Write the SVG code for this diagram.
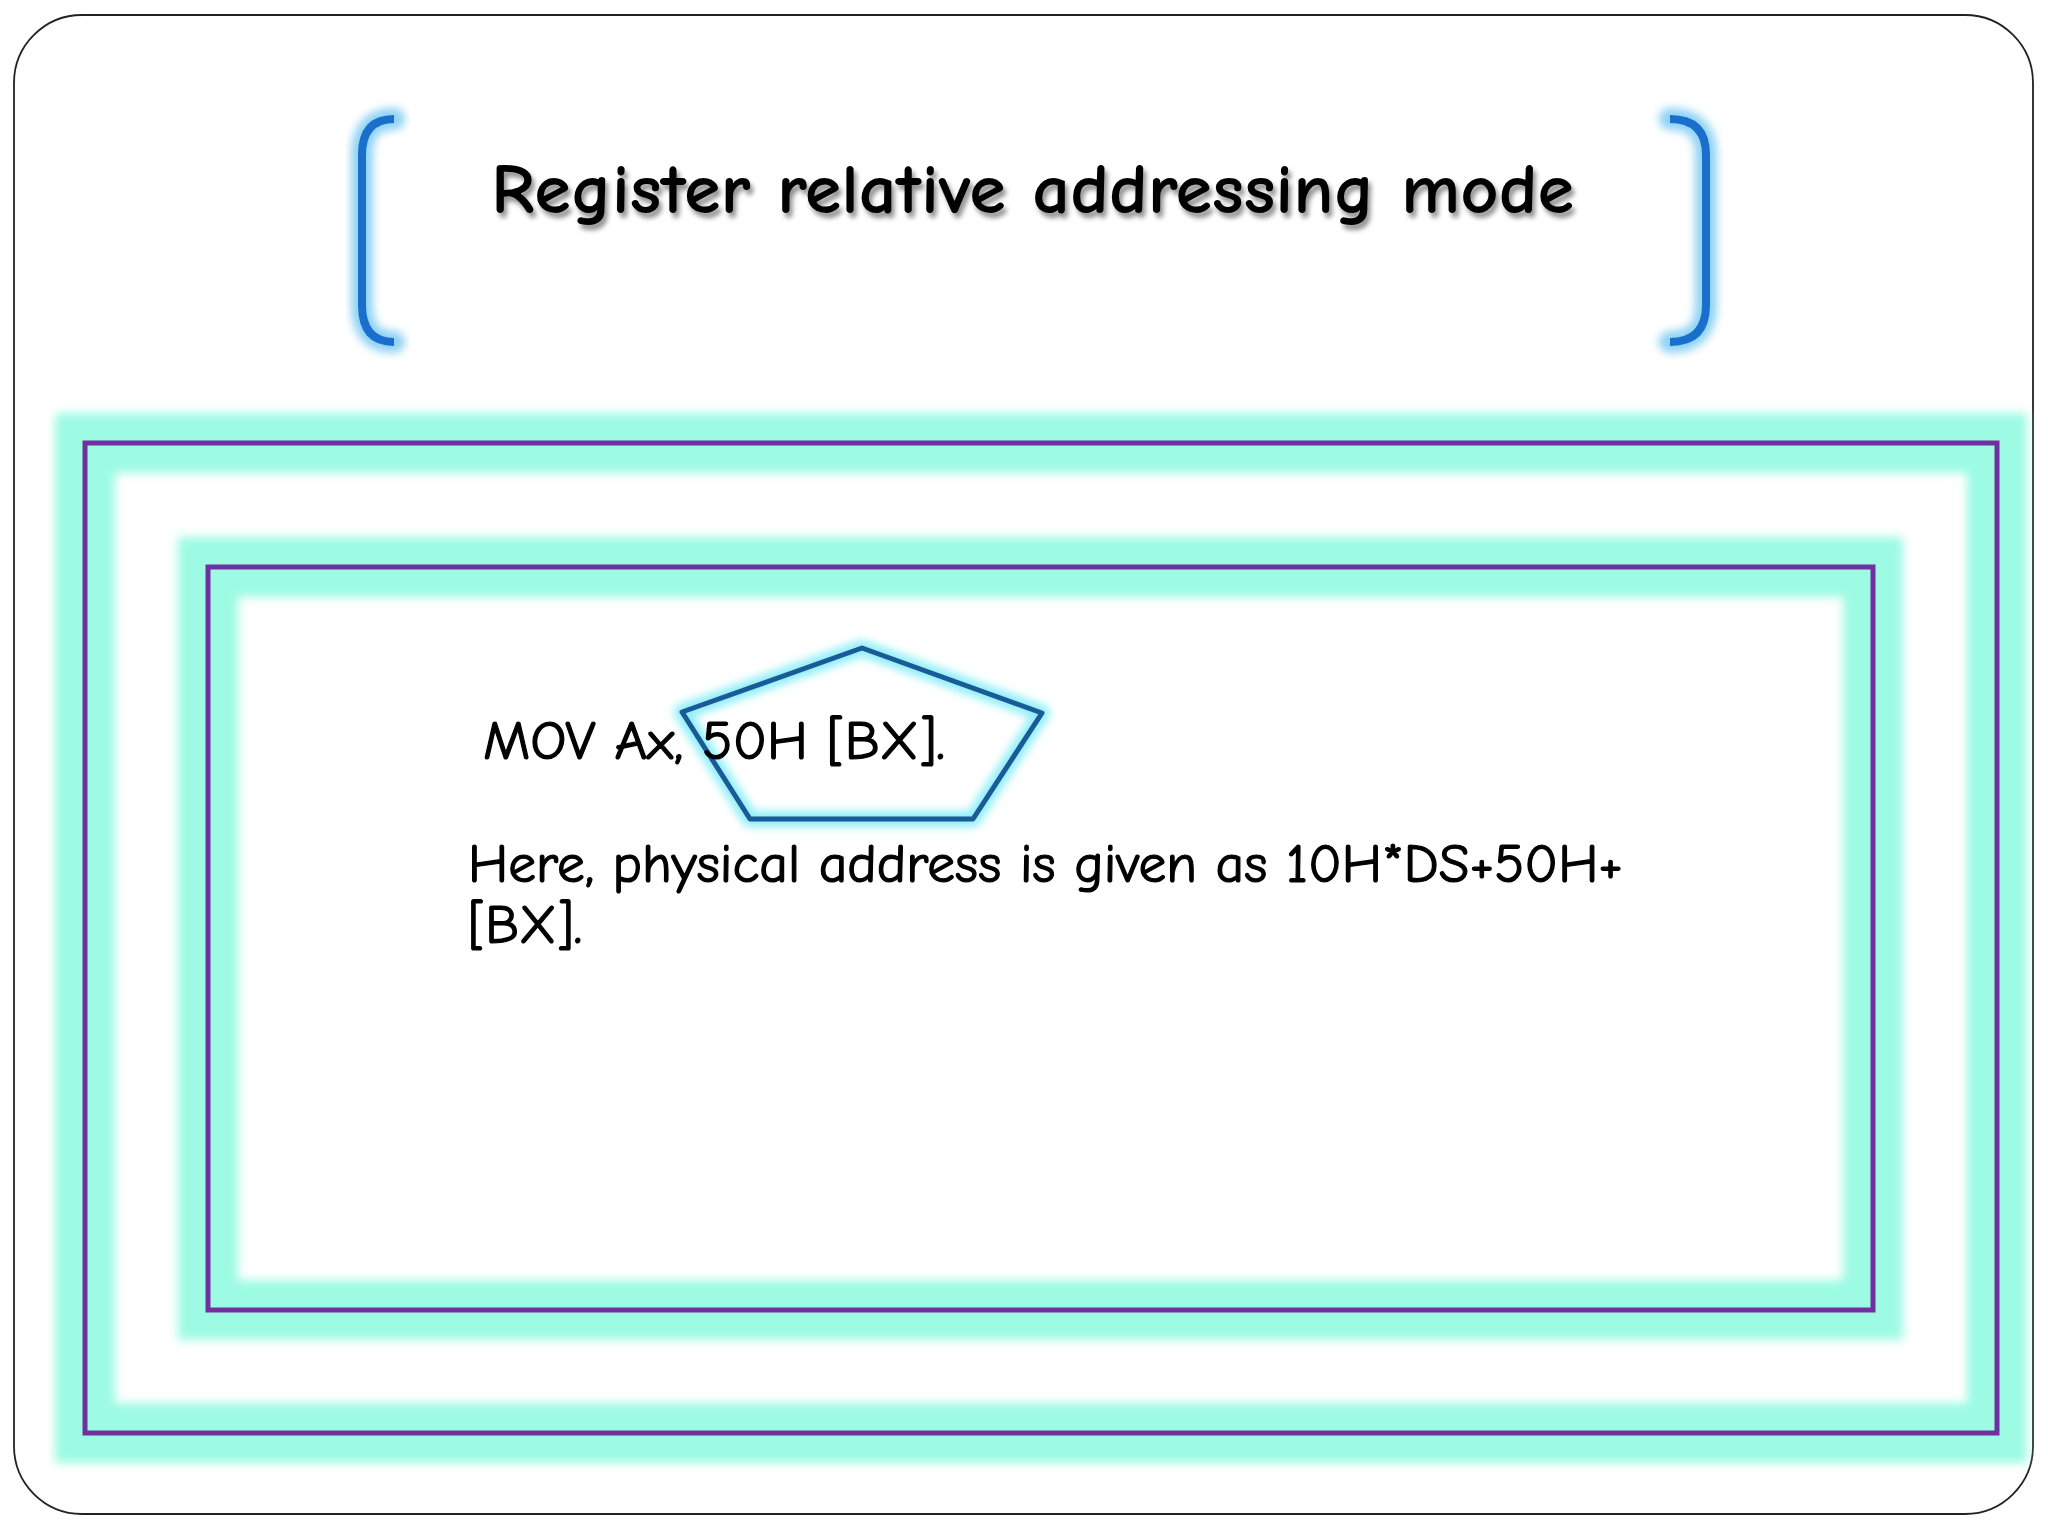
<svg xmlns="http://www.w3.org/2000/svg" width="2048" height="1536" viewBox="0 0 2048 1536">
  <defs>
    <style>
      .frame-glow { fill: none; stroke: #9DFBE3; stroke-width: 60; filter: url(#soft); }
      .frame-line { fill: none; stroke: #7030A0; stroke-width: 5; }
      .bracket-glow { fill: none; stroke: #8FD3F4; stroke-width: 22; stroke-linecap: round; filter: url(#soft3); }
      .bracket { fill: none; stroke: #1B6FCC; stroke-width: 8; stroke-linecap: butt; }
      .title { font-family: "Comic Sans MS", "Comic Neue", "Noto Sans", sans-serif; font-size: 71px; font-weight: bold; fill: #000; }
      .body { font-family: "Comic Sans MS", "Comic Neue", "Noto Sans", sans-serif; font-size: 55px; fill: #000; stroke: #000; stroke-width: 1.2; }
    </style>
    <filter id="soft" x="-10%" y="-10%" width="120%" height="120%">
      <feGaussianBlur stdDeviation="5"/>
    </filter>
    <filter id="soft3" x="-50%" y="-20%" width="200%" height="140%">
      <feGaussianBlur stdDeviation="4"/>
    </filter>
    <filter id="shadow" x="-5%" y="-30%" width="110%" height="160%">
      <feGaussianBlur in="SourceAlpha" stdDeviation="2.5" result="b"/>
      <feOffset in="b" dx="3" dy="5" result="o"/>
      <feComponentTransfer in="o" result="s">
        <feFuncA type="linear" slope="0.45"/>
      </feComponentTransfer>
      <feMerge>
        <feMergeNode in="s"/>
        <feMergeNode in="SourceGraphic"/>
      </feMerge>
    </filter>
  </defs>

  <rect width="2048" height="1536" fill="#FFFFFF"/>

  <g id="page">
    <rect x="14" y="15" width="2019" height="1499" rx="68" ry="68" fill="#FFFFFF" stroke="#222222" stroke-width="1.8"/>
  </g>

  <g id="title-brackets">
    <path class="bracket-glow" d="M394,119 Q362,119 362,155 L362,305 Q362,342 394,342"/>
    <path class="bracket" d="M394,119 Q362,119 362,155 L362,305 Q362,342 394,342"/>
    <path class="bracket-glow" d="M1670,119 Q1706,119 1706,155 L1706,305 Q1706,342 1670,342"/>
    <path class="bracket" d="M1670,119 Q1706,119 1706,155 L1706,305 Q1706,342 1670,342"/>
  </g>

  <g id="title">
    <text class="title" x="491" y="213" textLength="1083" lengthAdjust="spacingAndGlyphs" filter="url(#shadow)">Register relative addressing mode</text>
  </g>

  <g id="outer-frame">
    <rect class="frame-glow" x="85" y="443" width="1912" height="990"/>
    <rect class="frame-line" x="85" y="443" width="1912" height="990"/>
  </g>

  <g id="inner-frame">
    <rect class="frame-glow" x="208" y="567" width="1665" height="743"/>
    <rect class="frame-line" x="208" y="567" width="1665" height="743"/>
  </g>

  <g id="pentagon">
    <polygon points="862,648 1042,713 973,819 750,819 682,712" fill="none" stroke="#8EEFF8" stroke-width="16" stroke-linejoin="round" filter="url(#soft3)"/>
    <polygon points="862,648 1042,713 973,819 750,819 682,712" fill="none" stroke="#1A5A96" stroke-width="5" stroke-linejoin="round"/>
  </g>

  <g id="body-text">
    <text class="body" x="483" y="759" textLength="462" lengthAdjust="spacingAndGlyphs">MOV Ax, 50H [BX].</text>
    <text class="body" x="468" y="882" textLength="1155" lengthAdjust="spacingAndGlyphs">Here, physical address is given as 10H*DS+50H+</text>
    <text class="body" x="468" y="943" textLength="114" lengthAdjust="spacingAndGlyphs">[BX].</text>
  </g>
</svg>
